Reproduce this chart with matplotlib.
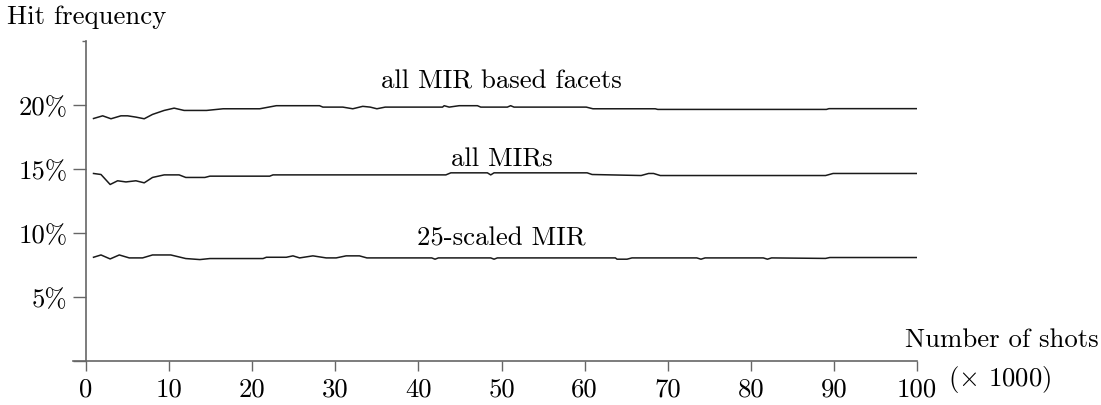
import matplotlib
matplotlib.use("Agg")
import matplotlib.pyplot as plt

plt.rcParams['font.family'] = ['cmr10', 'DejaVu Serif']
plt.rcParams['mathtext.fontset'] = 'cm'
plt.rcParams['axes.formatter.use_mathtext'] = True
plt.rcParams['axes.unicode_minus'] = False

# ---- data (thousands of shots, hit frequency in %) ----
facets_x = [0.9, 2.0, 3.0, 4.2, 5.0, 6.0, 7.0, 8.0, 9.4, 10.6, 11.8, 14.5, 16.5, 20.9,
            22.9, 28.1, 28.5, 30.9, 32.1, 33.3, 34.2, 35.0, 36.0, 42.9, 43.1, 43.7,
            44.9, 47.1, 47.5, 50.7, 51.1, 51.5, 60.2, 61.0, 68.5, 68.8, 89.1, 89.4, 100]
facets_y = [18.95, 19.16, 18.93, 19.16, 19.16, 19.06, 18.93, 19.27, 19.58, 19.76, 19.58,
            19.58, 19.71, 19.71, 19.95, 19.95, 19.84, 19.84, 19.71, 19.90, 19.84, 19.71,
            19.84, 19.84, 19.95, 19.84, 19.95, 19.95, 19.84, 19.84, 19.95, 19.84, 19.84,
            19.71, 19.71, 19.66, 19.66, 19.72, 19.72]

mirs_x = [0.9, 1.8, 2.9, 3.8, 4.8, 6.0, 7.0, 8.0, 9.4, 11.2, 12.0, 14.3, 14.9, 22.1,
          22.5, 43.3, 43.9, 48.3, 48.7, 49.1, 60.3, 60.9, 66.8, 67.7, 68.3, 69.1,
          89.0, 89.9, 100]
mirs_y = [14.66, 14.58, 13.80, 14.09, 14.00, 14.09, 13.93, 14.35, 14.55, 14.55, 14.35,
          14.35, 14.45, 14.45, 14.55, 14.55, 14.71, 14.71, 14.55, 14.71, 14.71, 14.58,
          14.50, 14.66, 14.66, 14.50, 14.50, 14.66, 14.66]

scaled_x = [0.9, 1.8, 2.9, 4.0, 5.2, 6.8, 8.0, 10.2, 12.0, 13.7, 14.9, 21.3, 21.7, 24.1,
            24.9, 25.7, 27.3, 28.9, 30.1, 31.3, 32.9, 33.8, 41.6, 42.0, 42.4, 48.7,
            49.1, 49.5, 63.7, 63.9, 65.1, 65.7, 73.5, 74.0, 74.5, 81.5, 82.0, 82.5,
            89.0, 89.5, 100]
scaled_y = [8.12, 8.30, 7.99, 8.30, 8.07, 8.07, 8.30, 8.30, 8.02, 7.94, 8.02, 8.02, 8.12,
            8.12, 8.23, 8.07, 8.23, 8.07, 8.07, 8.23, 8.23, 8.07, 8.07, 7.97, 8.07,
            8.07, 7.97, 8.07, 8.07, 7.97, 7.97, 8.07, 8.07, 7.97, 8.07, 8.07, 7.97,
            8.07, 8.03, 8.10, 8.10]

series_labels = ["all MIR based facets", "all MIRs", "25-scaled MIR"]
label_x = [50, 50, 50]
label_y = [21.35, 15.3, 9.15]

x_ticks = [0, 10, 20, 30, 40, 50, 60, 70, 80, 90, 100]
x_ticklabels = ["0", "10", "20", "30", "40", "50", "60", "70", "80", "90", "100"]
y_ticks = [0, 5, 10, 15, 20]
y_ticklabels = ["", "5%", "10%", "15%", "20%"]

# ---- figure ----
W, H = 1101, 406
fig = plt.figure(figsize=(W / 100, H / 100), dpi=100)
ax = fig.add_axes([73 / W, 1 - 362.3 / H, (917 - 73) / W, (362.3 - 42) / H])

fs = 19.3
axis_col = "#666666"
line_col = "#1a1a1a"

for xs, ys in [(facets_x, facets_y), (mirs_x, mirs_y), (scaled_x, scaled_y)]:
    ax.plot(xs, ys, color=line_col, lw=1.1, solid_joinstyle='round')

for t, lx, ly in zip(series_labels, label_x, label_y):
    ax.text(lx, ly, t, ha='center', va='baseline', fontsize=fs)

ax.set_xlim(-1.57, 100)
ax.set_ylim(0, 25)
for s in ['top', 'right']:
    ax.spines[s].set_visible(False)
ax.spines['left'].set_position(('data', 0))
for s in ['left', 'bottom']:
    ax.spines[s].set_color(axis_col)
    ax.spines[s].set_linewidth(1.2)

ax.set_xticks(x_ticks)
ax.set_xticklabels(x_ticklabels)
ax.set_yticks(y_ticks)
ax.set_yticklabels(y_ticklabels)
ax.set_yticks([25], minor=True)
ax.tick_params(axis='x', direction='out', length=7.5, width=1.0, color=axis_col,
               labelsize=fs, pad=3.5)
ax.tick_params(axis='y', which='major', direction='out', length=9.5, width=1.0,
               color=axis_col, labelsize=fs, pad=4)
ax.tick_params(axis='y', which='minor', direction='out', length=3, width=1.0,
               color=axis_col)

fig.text(7 / W, 1 - 24 / H, "Hit frequency", ha='left', va='baseline', fontsize=fs)
fig.text(905 / W, 1 - 347 / H, "Number of shots", ha='left', va='baseline', fontsize=fs)
fig.text(948 / W, 1 - 386 / H, r"($\times$ 1000)", ha='left', va='baseline', fontsize=fs)

fig.savefig("out.png", dpi=100)
